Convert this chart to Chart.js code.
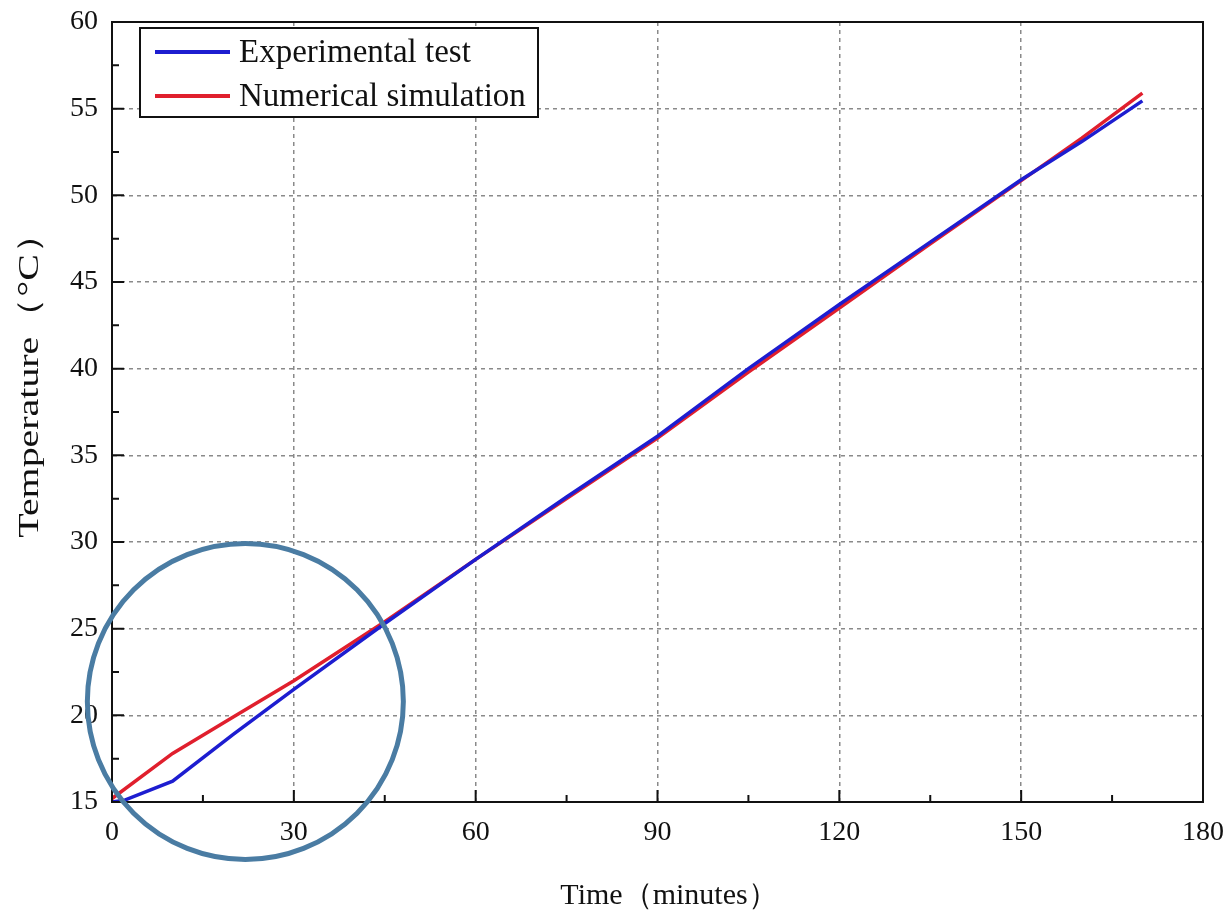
<!DOCTYPE html>
<html>
<head>
<meta charset="utf-8">
<script src="https://cdn.jsdelivr.net/npm/chart.js@4/dist/chart.umd.min.js"></script>
<style>
  html, body { margin: 0; padding: 0; background: #fff; }
  #wrap { width: 1231px; height: 916px; }
</style>
</head>
<body>
<div id="wrap"><canvas id="chart" width="1231" height="916"></canvas></div>
<script>
// Data
const expTime = [0, 2, 10, 20, 30, 45, 60, 75, 90, 105, 120, 135, 150, 160, 170];
const expTemp = [15.0, 15.1, 16.2, 18.9, 21.5, 25.3, 29.0, 32.6, 36.1, 40.0, 43.7, 47.3, 50.9, 53.1, 55.45];
const simTime = [0, 10, 20, 30, 45, 60, 75, 90, 105, 120, 135, 150, 160, 170];
const simTemp = [15.2, 17.8, 19.9, 22.0, 25.4, 29.0, 32.5, 36.0, 39.8, 43.5, 47.2, 50.85, 53.3, 55.9];
const xTicks = [0, 30, 60, 90, 120, 150, 180];
const yTicks = [15, 20, 25, 30, 35, 40, 45, 50, 55, 60];
const seriesLabels = ['Experimental test', 'Numerical simulation'];
const yTitle = 'Temperature（°C）';
const xTitle = 'Time（minutes）';

const FONT = '"Liberation Serif", "Times New Roman", serif';
const BLUE = '#1d1dd0';
const RED = '#e01f2d';

const toPoints = (xs, ys) => xs.map((x, i) => ({ x: x, y: ys[i] }));

// frame, inward ticks, legend box, axis titles and the circle mark
const decor = {
    id: 'decor',
    afterDraw(chart) {
        const ctx = chart.ctx;
        const a = chart.chartArea;
        const xs = chart.scales.x;
        const ys = chart.scales.y;
        ctx.save();

        // full frame
        ctx.setLineDash([]);
        ctx.strokeStyle = '#111';
        ctx.lineWidth = 2;
        ctx.strokeRect(a.left, a.top, a.right - a.left, a.bottom - a.top);

        // inward ticks on bottom and left
        ctx.beginPath();
        for (let v = 0; v <= 180; v += 15) {
            const px = xs.getPixelForValue(v);
            const len = v % 30 === 0 ? 12 : 7;
            ctx.moveTo(px, a.bottom);
            ctx.lineTo(px, a.bottom - len);
        }
        for (let v = 15; v <= 60; v += 2.5) {
            const py = ys.getPixelForValue(v);
            const len = v % 5 === 0 ? 12 : 7;
            ctx.moveTo(a.left, py);
            ctx.lineTo(a.left + len, py);
        }
        ctx.stroke();

        // legend
        const lx = 140, ly = 28, lw = 398, lh = 89;
        ctx.fillStyle = '#fff';
        ctx.fillRect(lx, ly, lw, lh);
        ctx.strokeStyle = '#111';
        ctx.lineWidth = 2;
        ctx.strokeRect(lx, ly, lw, lh);
        const colors = [BLUE, RED];
        ctx.font = '33px ' + FONT;
        ctx.textBaseline = 'middle';
        seriesLabels.forEach((label, i) => {
            const y = ly + 24 + i * 44;
            ctx.strokeStyle = colors[i];
            ctx.lineWidth = 4;
            ctx.beginPath();
            ctx.moveTo(lx + 15, y);
            ctx.lineTo(lx + 90, y);
            ctx.stroke();
            ctx.fillStyle = '#111';
            ctx.fillText(label, lx + 99, y + 1);
        });

        ctx.fillStyle = '#111';
        ctx.textAlign = 'center';
        ctx.textBaseline = 'middle';

        // x axis title
        ctx.font = '30px ' + FONT;
        ctx.fillText(xTitle, 669, 896);

        // y axis title, stretched along its length like the original
        ctx.save();
        ctx.translate(30, 376);
        ctx.rotate(-Math.PI / 2);
        ctx.scale(1.33, 1);
        ctx.font = '30px ' + FONT;
        ctx.fillText(yTitle, 0, 0);
        ctx.restore();

        // highlight circle around the early part of the curves
        const cx = xs.getPixelForValue(22);
        const cy = ys.getPixelForValue(20.8);
        ctx.strokeStyle = '#4a7ca3';
        ctx.lineWidth = 5;
        ctx.beginPath();
        ctx.arc(cx, cy, 158, 0, Math.PI * 2);
        ctx.stroke();

        ctx.restore();
    }
};

new Chart(document.getElementById('chart').getContext('2d'), {
    type: 'line',
    data: {
        datasets: [
            {
                label: seriesLabels[0],
                data: toPoints(expTime, expTemp),
                borderColor: BLUE,
                borderWidth: 3.5,
                pointRadius: 0,
                tension: 0
            },
            {
                label: seriesLabels[1],
                data: toPoints(simTime, simTemp),
                borderColor: RED,
                borderWidth: 3.5,
                pointRadius: 0,
                tension: 0
            }
        ]
    },
    options: {
        responsive: false,
        animation: false,
        layout: { padding: { top: 22, right: 28, left: 0, bottom: 0 } },
        plugins: {
            legend: { display: false },
            tooltip: { enabled: false }
        },
        scales: {
            x: {
                type: 'linear',
                min: 0,
                max: 180,
                afterBuildTicks: s => { s.ticks = xTicks.map(v => ({ value: v })); },
                afterFit: s => {
                    s.height = 114;
                    s.paddingLeft = 0;
                    s.paddingRight = 0;
                },
                ticks: {
                    color: '#111',
                    font: { family: FONT, size: 28 },
                    padding: 14,
                    maxRotation: 0
                },
                grid: {
                    color: '#8a8a8a',
                    lineWidth: 1.5,
                    drawTicks: false
                },
                border: { display: true, color: '#111', width: 2, dash: [4, 4] },
                title: { display: false }
            },
            y: {
                min: 15,
                max: 60,
                afterBuildTicks: s => { s.ticks = yTicks.map(v => ({ value: v })); },
                afterFit: s => {
                    s.width = 112;
                    s.paddingTop = 0;
                    s.paddingBottom = 0;
                },
                ticks: {
                    color: '#111',
                    font: { family: FONT, size: 28 },
                    padding: 14
                },
                grid: {
                    color: '#8a8a8a',
                    lineWidth: 1.5,
                    drawTicks: false
                },
                border: { display: true, color: '#111', width: 2, dash: [4, 4] },
                title: { display: false }
            }
        }
    },
    plugins: [decor]
});
</script>
</body>
</html>
